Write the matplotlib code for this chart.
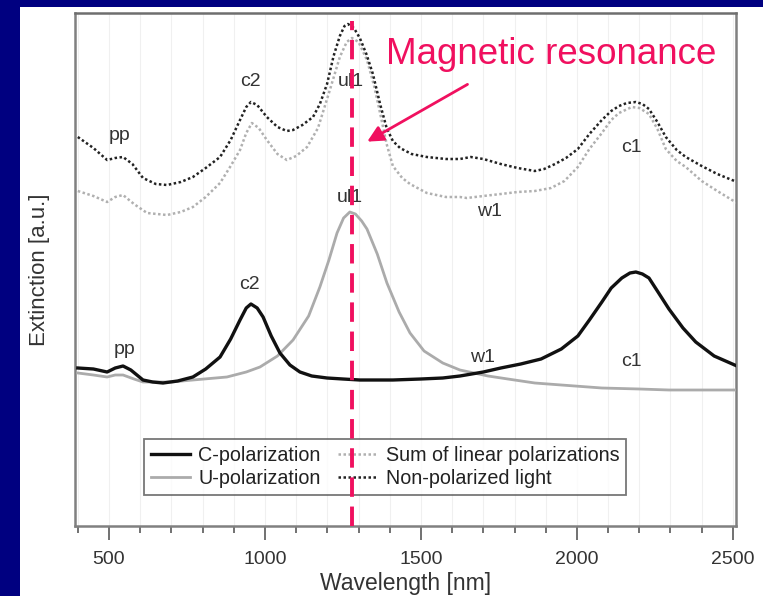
import matplotlib.pyplot as plt
from matplotlib.patches import Rectangle
from matplotlib.ticker import MultipleLocator

plt.rcParams['font.family'] = ['Liberation Sans', 'DejaVu Sans']

# C-polarization (black solid)
c_wl = [400, 450, 494, 520, 545, 570, 609, 640, 673, 720, 769, 810, 856, 890, 920, 940, 955, 975,
        994, 1020, 1048, 1080, 1112, 1150, 1199, 1250, 1304, 1360, 1410, 1500, 1570, 1625, 1700,
        1756, 1820, 1885, 1950, 2003, 2040, 2080, 2110, 2144, 2170, 2189, 2210, 2231, 2260, 2295,
        2340, 2381, 2440, 2513]
c_ext = [1.58, 1.57, 1.54, 1.58, 1.60, 1.56, 1.46, 1.44, 1.43, 1.45, 1.49, 1.57, 1.69, 1.87, 2.06,
         2.18, 2.22, 2.18, 2.09, 1.90, 1.73, 1.61, 1.54, 1.50, 1.48, 1.47, 1.46, 1.46, 1.46, 1.47,
         1.48, 1.50, 1.54, 1.58, 1.62, 1.67, 1.77, 1.90, 2.06, 2.24, 2.38, 2.48, 2.53, 2.54, 2.52,
         2.48, 2.34, 2.17, 1.98, 1.84, 1.70, 1.60]

# U-polarization (grey solid)
u_wl = [400, 450, 494, 520, 545, 580, 609, 700, 769, 878, 940, 984, 1040, 1090, 1140, 1176, 1205,
        1231, 1252, 1272, 1290, 1310, 1327, 1360, 1391, 1430, 1465, 1510, 1570, 1625, 1715, 1800,
        1865, 1950, 2080, 2200, 2295, 2400, 2513]
u_ext = [1.53, 1.51, 1.49, 1.51, 1.51, 1.47, 1.44, 1.44, 1.46, 1.49, 1.54, 1.59, 1.70, 1.86, 2.10,
         2.39, 2.66, 2.93, 3.08, 3.14, 3.12, 3.05, 2.97, 2.72, 2.43, 2.14, 1.93, 1.75, 1.63, 1.56,
         1.50, 1.46, 1.43, 1.41, 1.38, 1.37, 1.36, 1.36, 1.36]

# sum of linear polarizations (grey dotted)
s_wl = [400, 450, 494, 520, 545, 580, 622, 686, 730, 769, 810, 856, 890, 920, 940, 958, 980, 1006,
        1040, 1070, 1100, 1135, 1170, 1208, 1240, 1262, 1279, 1300, 1327, 1350, 1369, 1390, 1410,
        1440, 1465, 1519, 1580, 1625, 1647, 1700, 1756, 1810, 1865, 1917, 1960, 2003, 2040, 2080,
        2110, 2135, 2176, 2200, 2231, 2258, 2285, 2320, 2349, 2400, 2450, 2513]
s_ext = [3.35, 3.30, 3.24, 3.29, 3.31, 3.22, 3.13, 3.11, 3.14, 3.19, 3.29, 3.43, 3.60, 3.76, 3.93,
         4.03, 3.98, 3.86, 3.72, 3.66, 3.70, 3.79, 3.98, 4.36, 4.69, 4.84, 4.88, 4.84, 4.66, 4.40,
         4.13, 3.82, 3.60, 3.48, 3.42, 3.33, 3.29, 3.29, 3.28, 3.30, 3.32, 3.34, 3.35, 3.38, 3.45,
         3.59, 3.77, 3.93, 4.06, 4.13, 4.19, 4.18, 4.12, 3.97, 3.77, 3.65, 3.59, 3.45, 3.35, 3.23]

# non-polarized light (black dotted)
n_wl = [400, 450, 494, 520, 545, 575, 609, 650, 686, 730, 769, 810, 856, 890, 920, 940, 955, 975,
        1006, 1040, 1070, 1090, 1120, 1154, 1176, 1199, 1220, 1240, 1255, 1266, 1285, 1304, 1325,
        1346, 1369, 1390, 1410, 1433, 1470, 1519, 1580, 1625, 1660, 1700, 1756, 1810, 1865, 1895,
        1930, 1965, 2003, 2040, 2080, 2110, 2135, 2160, 2189, 2210, 2231, 2258, 2285, 2320, 2349,
        2400, 2450, 2513]
n_ext = [3.89, 3.78, 3.66, 3.68, 3.69, 3.62, 3.48, 3.42, 3.41, 3.44, 3.49, 3.58, 3.69, 3.86, 4.06,
         4.19, 4.24, 4.21, 4.09, 3.99, 3.95, 3.96, 4.01, 4.09, 4.22, 4.42, 4.70, 4.90, 5.00, 5.02,
         4.98, 4.88, 4.72, 4.52, 4.22, 3.98, 3.85, 3.78, 3.72, 3.69, 3.67, 3.67, 3.69, 3.67, 3.62,
         3.58, 3.55, 3.57, 3.62, 3.68, 3.77, 3.92, 4.06, 4.15, 4.20, 4.23, 4.24, 4.22, 4.17, 4.04,
         3.89, 3.76, 3.69, 3.60, 3.52, 3.44]

# mode labels: (text, wavelength, extinction)
peak_labels = [("pp", 535, 3.90), ("c2", 952, 4.44), ("ul1", 1276, 4.44), ("c1", 2176, 3.78),
               ("w1", 1721, 3.14), ("ul1", 1272, 3.28), ("c2", 949, 2.41), ("pp", 551, 1.76),
               ("w1", 1696, 1.69), ("c1", 2176, 1.64)]

resonance_wl = 1280
pink = '#f0105f'

fig = plt.figure(figsize=(7.63, 5.96), dpi=100)
fig.patch.set_facecolor('#000080')
# white slide panel behind the plot
fig.patches.append(Rectangle((20 / 763, 0), 743 / 763, 589 / 596, transform=fig.transFigure,
                             facecolor='white', edgecolor='none', zorder=-10))

ax = fig.add_axes([75 / 763, 70 / 596, 661 / 763, 513 / 596])
ax.plot(c_wl, c_ext, color='#111111', lw=2.4, label='C-polarization', zorder=4)
ax.plot(u_wl, u_ext, color='#ababab', lw=2.0, label='U-polarization', zorder=3)
ax.plot(s_wl, s_ext, color='#b0b0b0', lw=1.8, ls=(0, (1, 1)), label='Sum of linear polarizations', zorder=3)
ax.plot(n_wl, n_ext, color='#222222', lw=1.8, ls=(0, (1, 1)), label='Non-polarized light', zorder=4)

for txt, x, y in peak_labels:
    ax.text(x, y, txt, ha='center', va='center', fontsize=14, color='#333333', zorder=5)

ax.set_xlim(391, 2510)
ax.set_ylim(0, 5.13)
ax.xaxis.set_major_locator(MultipleLocator(500))
ax.xaxis.set_minor_locator(MultipleLocator(100))
ax.set_yticks([])
ax.grid(True, which='both', axis='x', color='#f0f0f0', lw=0.8)
ax.set_axisbelow(True)
for sp in ax.spines.values():
    sp.set_color('#808080')
    sp.set_linewidth(1.8)
ax.spines['top'].set_color('#6e6e6e')
ax.tick_params(axis='x', which='major', length=10, width=1.3, color='#666666',
               labelsize=14, labelcolor='#333333', pad=8)
ax.tick_params(axis='x', which='minor', length=5, width=1.3, color='#666666')
ax.set_xlabel('Wavelength [nm]', fontsize=16.5, color='#333333', labelpad=3)
ax.set_ylabel('Extinction [a.u.]', fontsize=16, color='#333333', labelpad=18)

leg = ax.legend(ncol=2, loc='upper left', bbox_to_anchor=(144 / 763, 1 - 439 / 596),
                bbox_transform=fig.transFigure, fontsize=14.2, frameon=True, fancybox=False,
                handlelength=2.0, handletextpad=0.4, columnspacing=0.9, borderpad=0.35,
                labelspacing=0.2, borderaxespad=0, labelcolor='#222222')
leg.get_frame().set_edgecolor('#555555')
leg.get_frame().set_linewidth(1.3)

# magnetic resonance marker
ax.axvline(resonance_wl, ymin=0, ymax=0.985, color=pink, lw=2.8, ls=(0, (5, 2.5)), zorder=6)
ax.annotate('', xy=(1320, 3.83), xytext=(1657, 4.43),
            arrowprops=dict(arrowstyle='-|>', color=pink, lw=2, mutation_scale=24), zorder=6)
ax.text(1917, 4.71, 'Magnetic resonance', ha='center', va='center', fontsize=26.5, color=pink, zorder=6)

plt.savefig('out.png', dpi=100, facecolor=fig.get_facecolor())
